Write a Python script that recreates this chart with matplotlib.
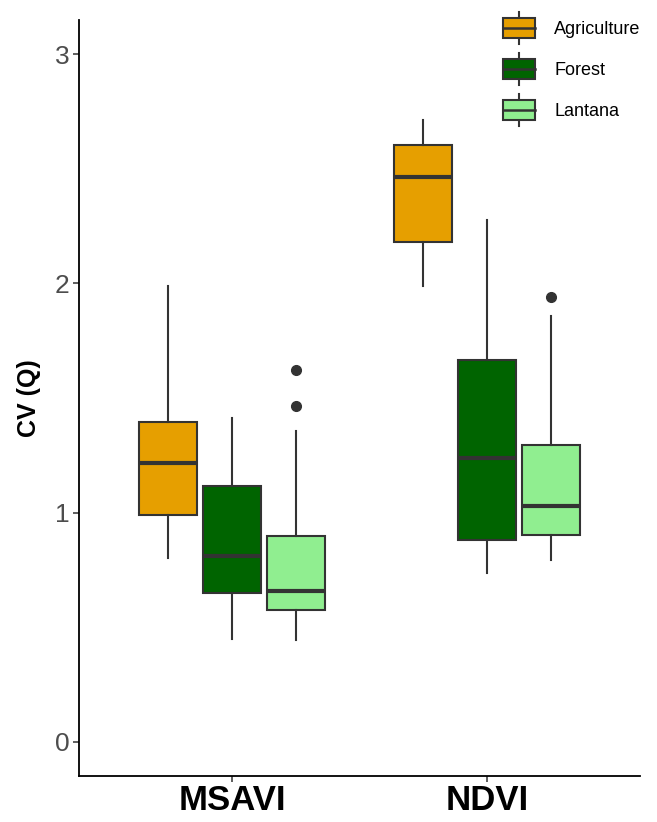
import matplotlib.pyplot as plt
from matplotlib.patches import Rectangle
from matplotlib.lines import Line2D
from matplotlib.legend_handler import HandlerBase

plt.rcParams['font.family'] = ['Liberation Sans', 'DejaVu Sans']

# values
indices = ['MSAVI', 'NDVI']
classes = ['Agriculture', 'Forest', 'Lantana']
colors = ['#E69F00', '#006400', '#90EE90']

# per index, per class: whislo, q1, med, q3, whishi
whislo = [[0.80, 0.45, 0.445], [1.99, 0.737, 0.795]]
q1 = [[0.988, 0.649, 0.576], [2.18, 0.882, 0.904]]
med = [[1.217, 0.809, 0.656], [2.466, 1.239, 1.028]]
q3 = [[1.396, 1.115, 0.897], [2.603, 1.664, 1.297]]
whishi = [[1.988, 1.413, 1.358], [2.713, 2.275, 1.857]]
fliers = [[[], [], [1.624, 1.464]], [[], [], [1.942]]]

dpi = 100.
fig = plt.figure(figsize=(657 / dpi, 822 / dpi), dpi=dpi)
ax = fig.add_axes([79 / 657, 46 / 822, (640 - 79) / 657, (776 - 20) / 822])

edge = '#333333'
offsets = [-0.25, 0, 0.25]
for i, idx in enumerate(indices):
    for j, cl in enumerate(classes):
        st = [dict(whislo=whislo[i][j], q1=q1[i][j], med=med[i][j], q3=q3[i][j],
                   whishi=whishi[i][j], fliers=fliers[i][j])]
        ax.bxp(st, positions=[i + 1 + offsets[j]], widths=0.227, patch_artist=True,
               showcaps=False,
               boxprops=dict(facecolor=colors[j], edgecolor=edge, linewidth=1.5),
               medianprops=dict(color=edge, linewidth=3, solid_capstyle='butt'),
               whiskerprops=dict(color=edge, linewidth=1.5),
               flierprops=dict(marker='o', markerfacecolor=edge, markeredgecolor=edge,
                               markersize=7))

ax.set_xlim(0.4, 2.6)
ax.set_ylim(-0.15, 3.15)
ax.set_xticks([1, 2])
ax.set_xticklabels(indices, fontsize=25, fontweight='bold', color='black')
ax.set_yticks([0, 1, 2, 3])
ax.set_yticklabels(['0', '1', '2', '3'], fontsize=19, color='#4D4D4D')
ax.tick_params(axis='both', length=4, width=1.1, color='#333333')
ax.tick_params(axis='x', pad=2)
ax.tick_params(axis='y', pad=3)
ax.set_ylabel('CV (Q)', fontsize=18, fontweight='bold', labelpad=10)
for s in ['top', 'right']:
    ax.spines[s].set_visible(False)
for s in ['left', 'bottom']:
    ax.spines[s].set_linewidth(1.3)
    ax.spines[s].set_color('black')


class BoxKey(HandlerBase):
    def create_artists(self, legend, orig_handle, xdescent, ydescent, width, height,
                       fontsize, trans):
        fc = orig_handle.get_facecolor()
        x0, y0 = -xdescent, -ydescent
        bh = height * 0.64
        by = y0 + (height - bh) / 2
        xm = x0 + width / 2
        w1 = Line2D([xm, xm], [y0, by], color=edge, lw=1.5, transform=trans)
        w2 = Line2D([xm, xm], [by + bh, y0 + height], color=edge, lw=1.5, transform=trans)
        r = Rectangle((x0, by), width, bh, facecolor=fc, edgecolor=edge, lw=1.5,
                      transform=trans)
        m = Line2D([x0, x0 + width], [by + bh / 2] * 2, color=edge, lw=1.8,
                   transform=trans)
        return [w1, w2, r, m]


handles = [Rectangle((0, 0), 1, 1, facecolor=c) for c in colors]
fig.legend(handles, classes, handler_map={Rectangle: BoxKey()},
           loc='upper left', bbox_to_anchor=(503 / 657, 1 - 12 / 822),
           frameon=False, fontsize=13, borderpad=0, borderaxespad=0,
           handlelength=1.78, handleheight=2.35, handletextpad=1.05,
           labelspacing=0.5)

fig.savefig('out.png', dpi=dpi)
